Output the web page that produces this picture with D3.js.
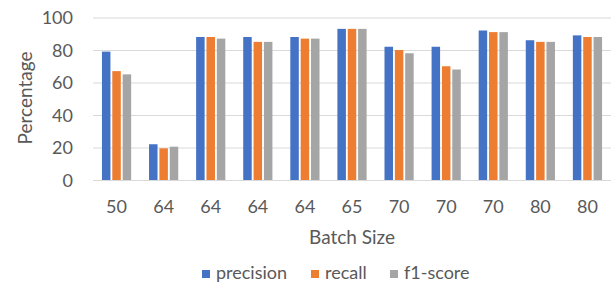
<!DOCTYPE html>
<html>
<head>
<meta charset="utf-8">
<script src="https://cdn.jsdelivr.net/npm/d3@7"></script>
<style>
  html, body { margin: 0; padding: 0; background: #ffffff; }
  svg { display: block; }
  text { font-family: Lato, "Open Sans", sans-serif; fill: #595959; }
</style>
</head>
<body>
<svg id="chart" width="611" height="285"></svg>
<script>
const categories = ["50", "64", "64", "64", "64", "65", "70", "70", "70", "80", "80"];
const seriesNames = ["precision", "recall", "f1-score"];
const precision = [79, 22, 88, 88, 88, 93, 82, 82, 92, 86, 89];
const recall    = [67, 19.5, 88, 85, 87, 93, 80, 70, 91, 85, 88];
const f1score   = [65, 20.5, 87, 85, 87, 93, 78, 68, 91, 85, 88];
const yTicks = [0, 20, 40, 60, 80, 100];
const colors = ["#4472C4", "#ED7D31", "#A5A5A5"];

const seriesValues = [precision, recall, f1score];
const data = categories.map((c, i) => ({
  idx: i, label: c,
  values: seriesNames.map((s, j) => ({ key: s, value: seriesValues[j][i], color: colors[j] }))
}));

const svg = d3.select("#chart");
const plot = { left: 93, right: 611, top: 17.5, bottom: 180 };

const x0 = d3.scaleBand()
  .domain(d3.range(categories.length))
  .range([plot.left, plot.right])
  .paddingInner(0.38)
  .paddingOuter(0.19);
const x1 = d3.scaleBand()
  .domain(seriesNames)
  .range([0, x0.bandwidth()])
  .paddingInner(0.18);
const y = d3.scaleLinear().domain([0, 100]).range([plot.bottom, plot.top]);

// gridlines
svg.append("g")
  .selectAll("line")
  .data(yTicks)
  .join("line")
  .attr("x1", plot.left)
  .attr("x2", plot.right)
  .attr("y1", d => y(d) + 0.5)
  .attr("y2", d => y(d) + 0.5)
  .attr("stroke", "#D9D9D9")
  .attr("stroke-width", 1);

// y axis labels
const yAxis = d3.axisLeft(y).tickValues(yTicks).tickSize(0).tickPadding(0);
const yg = svg.append("g").attr("transform", "translate(73,0)").call(yAxis);
yg.select(".domain").remove();
yg.selectAll("text").attr("font-size", 18).attr("font-family", "Lato").attr("fill", "#595959").attr("dy", "0.34em");

// bars
const groups = svg.append("g")
  .selectAll("g")
  .data(data)
  .join("g")
  .attr("transform", d => `translate(${x0(d.idx)},0)`);
groups.selectAll("rect")
  .data(d => d.values)
  .join("rect")
  .attr("x", d => x1(d.key))
  .attr("width", x1.bandwidth())
  .attr("y", d => y(d.value))
  .attr("height", d => y(0) - y(d.value))
  .attr("fill", d => d.color);

// x axis labels
const xAxis = d3.axisBottom(x0).tickFormat(i => categories[i]).tickSize(0).tickPadding(0);
const xg = svg.append("g").attr("transform", "translate(0,200)").call(xAxis);
xg.select(".domain").remove();
xg.selectAll("text").attr("font-size", 18).attr("font-family", "Lato").attr("fill", "#595959").attr("dy", "0.71em");

// axis titles
svg.append("text")
  .attr("x", (plot.left + plot.right) / 2)
  .attr("y", 244)
  .attr("text-anchor", "middle")
  .attr("font-size", 19)
  .text("Batch Size");

svg.append("text")
  .attr("transform", "translate(32,98) rotate(-90)")
  .attr("text-anchor", "middle")
  .attr("font-size", 19)
  .text("Percentage");

// legend
const legendX = [202, 311, 390];
const leg = svg.append("g")
  .selectAll("g")
  .data(seriesNames)
  .join("g")
  .attr("transform", (d, i) => `translate(${legendX[i]},270)`);
leg.append("rect")
  .attr("width", 8)
  .attr("height", 8)
  .attr("fill", (d, i) => colors[i]);
leg.append("text")
  .attr("x", 14)
  .attr("y", 9)
  .attr("font-size", 18)
  .text(d => d);
</script>
</body>
</html>
